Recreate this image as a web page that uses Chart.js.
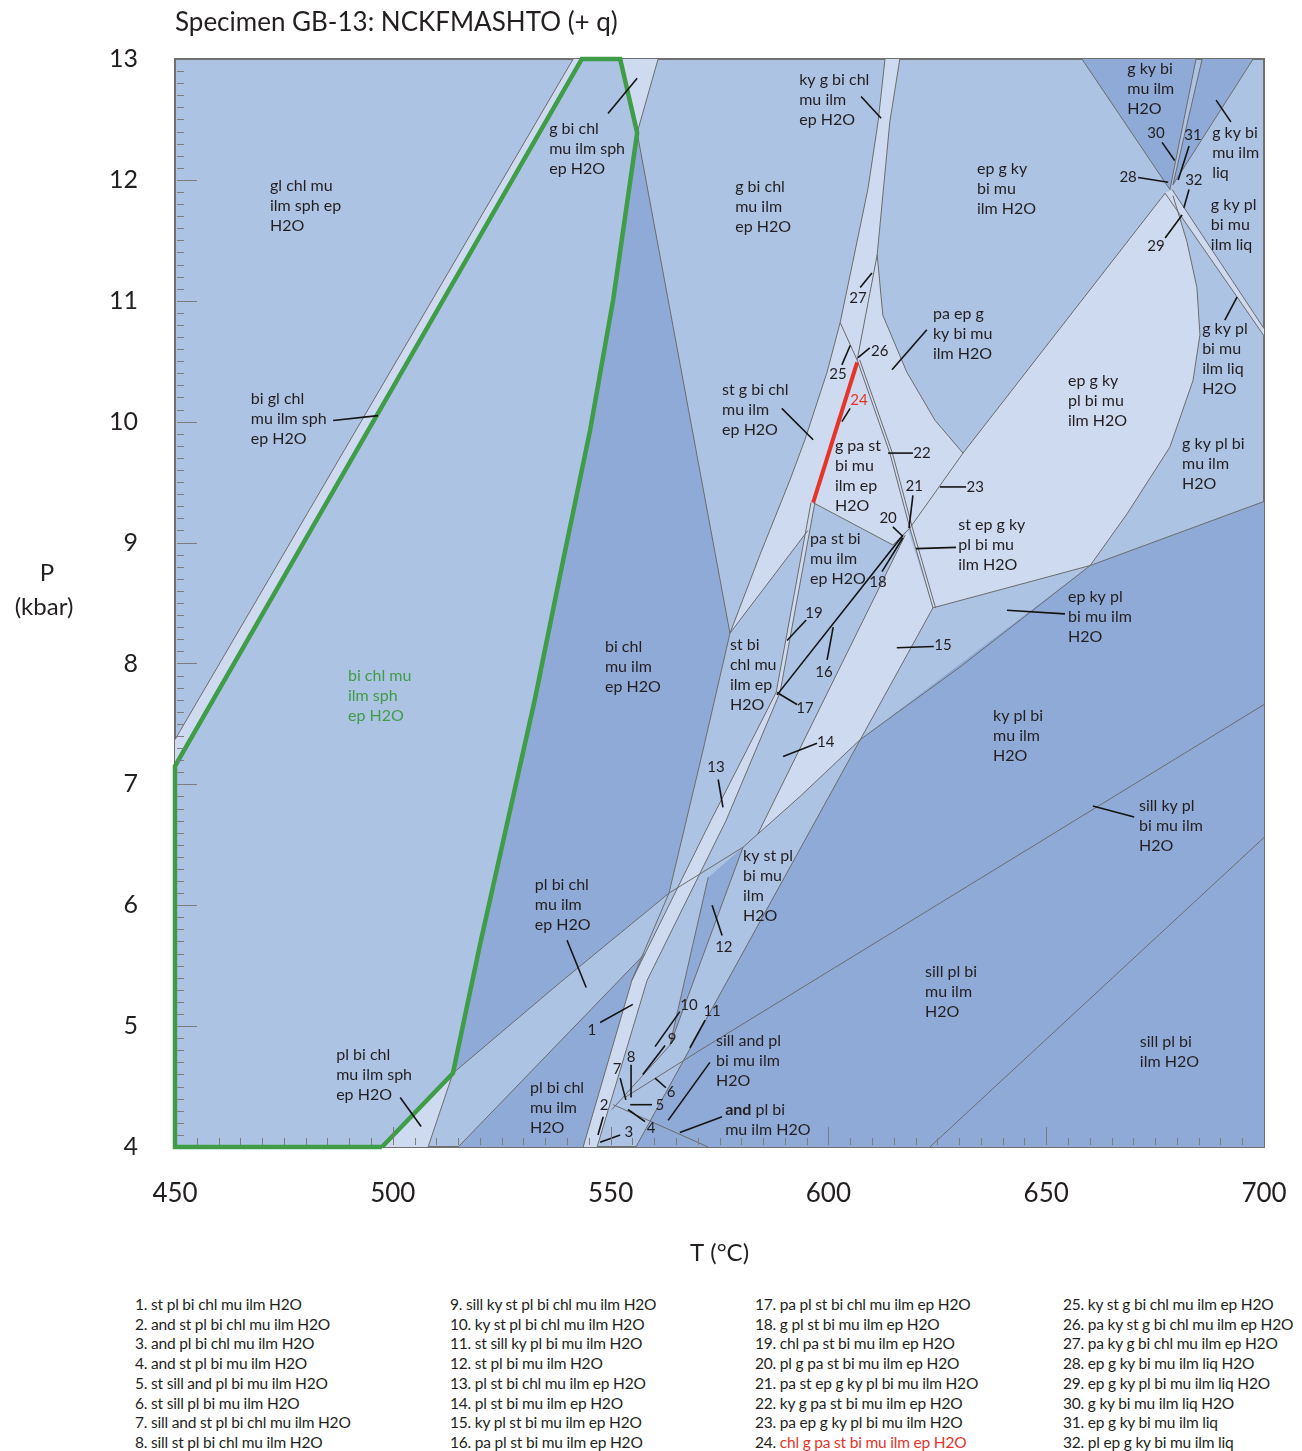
<!DOCTYPE html>
<html lang="en">
<head>
<meta charset="utf-8">
<title>Specimen GB-13: NCKFMASHTO (+ q)</title>
<script src="https://cdn.jsdelivr.net/npm/chart.js@4.4.1/dist/chart.umd.min.js"></script>
<style>
  html, body { margin: 0; padding: 0; background: #fff; }
  body { width: 1302px; height: 1451px; position: relative; overflow: hidden;
         font-family: Lato, "Open Sans", "DejaVu Sans", sans-serif; color: #231f20; }
  #wrap { position: absolute; left: 0; top: 0; width: 1302px; height: 1280px; }
  .legend { position: absolute; top: 1295px; font-size: 15.5px; line-height: 19.7px; white-space: nowrap; letter-spacing: -0.2px; }
  .legend .hl { color: #e5342a; }
</style>
</head>
<body>
<div id="wrap"><canvas id="pt" width="1302" height="1280"></canvas></div>
<div class="legend" id="col1" style="left:135px"></div>
<div class="legend" id="col2" style="left:450px"></div>
<div class="legend" id="col3" style="left:755px"></div>
<div class="legend" id="col4" style="left:1063px"></div>
<script>
// ---- axes ----
const tempTicks = [450, 500, 550, 600, 650, 700];          // T (°C)
const presTicks = [4, 5, 6, 7, 8, 9, 10, 11, 12, 13];      // P (kbar)

// ---- shaded phase fields, [T °C, P kbar] ----
const stripBiGl      = [[450,7.37],[541.4,13],[543.4,13],[450,7.15]];
const triGBiChlSph   = [[552.2,13],[560.9,13],[556.1,12.39]];
const triPlBiChlSph  = [[513.8,4.61],[508.1,4],[497.5,4]];
const fieldBiChlEp   = [[556.1,12.39],[577.4,8.25],[571.2,7.28],[563.4,6.10],[538.4,5.36],[513.8,4.61],[520.0,5.67],[526.4,6.70],[532.6,7.70],[538.4,8.73],[545.3,9.93],[550.6,11.01]];
const fieldPlBiChl   = [[515.0,4],[557.9,5.60],[554.9,5.38],[543.7,4]];
const strip13        = [[588.0,7.76],[573.0,6.70],[554.9,5.38],[543.7,4],[546.9,4],[558.4,5.38],[576.5,6.70],[588.9,7.76]];
const strip19        = [[596.0,9.33],[588.0,7.76],[588.9,7.76],[596.9,9.33]];
const fieldStGBiChl  = [[602.7,10.82],[606.6,10.51],[596.5,9.33],[595.3,9.10],[577.4,8.25],[584.3,8.90],[591.2,9.52],[594.6,9.85],[599.7,10.41]];
const stripKyGBiChl  = [[613.0,13],[616.4,13],[614.1,12.48],[611.2,11.38],[606.6,10.51],[602.7,10.82],[605.6,11.32],[609.1,11.93],[611.4,12.48]];
const fieldGPaSt     = [[606.6,10.51],[596.5,9.33],[614.8,8.98],[618.7,9.12],[614.1,9.74]];
const fieldEpGKyPl   = [[611.2,11.38],[606.6,10.51],[614.1,9.74],[618.7,9.12],[624.0,8.46],[660.1,8.81],[668.6,9.24],[678.4,9.79],[683.7,10.34],[685.3,10.72],[684.6,11.11],[682.3,11.49],[679.1,11.87],[677.3,11.89],[630.9,9.74],[624.5,10.01],[618.0,10.41],[612.5,10.88]];
const fieldKyPlSt    = [[617.6,9.06],[618.3,9.10],[624.0,8.46],[607.3,7.37],[593.5,6.90],[583.8,6.59]];
const wedge12        = [[580.4,6.48],[572.4,6.23],[563.6,4.84]];
const fieldKyPlBi    = [[700,9.34],[660.1,8.81],[607.3,7.37],[568.2,4.82],[555.8,4],[700,4]];
const fieldSillPlBi  = [[623.3,4],[700,6.56],[700,4]];
const wedgeGKyBiH2O  = [[658.2,13],[684.4,13],[678.4,11.92]];
const wedgeGKyBiLiq  = [[685.8,13],[697.5,13],[679.1,11.96]];
const strip29        = [[677.3,11.89],[678.9,11.92],[700,10.77],[700,10.71]];

// ---- reaction boundaries ----
const bndGl      = [[450,7.37],[541.4,13]];
const bndSph     = [[560.9,13],[556.1,12.39]];
const bndL1      = [[556.1,12.39],[577.4,8.25],[571.2,7.28],[563.4,6.10],[554.9,5.38]];
const bndSt      = [[613.0,13],[611.4,12.48],[609.1,11.93],[605.6,11.32],[602.7,10.82],[599.7,10.41],[594.6,9.85],[591.2,9.52],[584.3,8.90],[577.4,8.25]];
const bndKyR     = [[616.4,13],[614.1,12.48],[611.2,11.38],[606.6,10.51]];
const bndPaEp    = [[611.2,11.38],[612.5,10.88],[618.0,10.41],[624.5,10.01],[630.9,9.74]];
const bnd25      = [[602.7,10.82],[606.6,10.51]];
const bnd22a     = [[606.6,10.51],[614.1,9.74],[618.7,9.12],[624.0,8.46]];
const bnd22b     = [[607.2,10.51],[614.7,9.74],[619.3,9.12],[624.6,8.46]];
const bndGPaSt   = [[596.5,9.33],[614.8,8.98],[618.7,9.12]];
const bnd23      = [[630.9,9.74],[618.7,9.12]];
const bndEpPl    = [[630.9,9.74],[677.3,11.89]];
const bndGKy     = [[658.2,13],[678.4,11.92]];
const bnd30a     = [[684.4,13],[678.4,11.92]];
const bnd30b     = [[685.8,13],[679.1,11.96]];
const bndLiq     = [[697.5,13],[679.1,11.96]];
const bnd29a     = [[677.3,11.89],[700,10.71]];
const bnd29b     = [[678.9,11.92],[700,10.77]];
const bndEpOut   = [[679.1,11.87],[682.3,11.49],[684.6,11.11],[685.3,10.72],[683.7,10.34],[678.4,9.79],[668.6,9.24],[660.1,8.81]];
const bndStEp    = [[624.0,8.46],[660.1,8.81],[700,9.34]];
const bndChlOut  = [[513.8,4.61],[538.4,5.36],[563.4,6.10],[580.4,6.48],[593.5,6.90],[607.3,7.37],[630.2,7.97],[660.1,8.81]];
const bndPlIn    = [[515.0,4],[557.9,5.60]];
const bndStChl   = [[577.4,8.25],[595.3,9.10]];
const bnd19a     = [[596.0,9.33],[588.0,7.76]];
const bnd19b     = [[596.9,9.33],[588.9,7.76]];
const bnd13a     = [[588.0,7.76],[573.0,6.70],[554.9,5.38],[543.7,4]];
const bnd13b     = [[588.9,7.76],[576.5,6.70],[558.4,5.38],[546.9,4]];
const bnd15      = [[617.6,9.06],[583.8,6.59]];
const bndKySt    = [[624.0,8.46],[555.8,4]];
const bndSillKy  = [[700,7.66],[570.5,4.80],[553.3,4.41]];
const bndAnd     = [[550.6,4.35],[572.4,4]];
const bndSillIlm = [[623.3,4],[700,6.56]];
const bnd12a     = [[580.4,6.48],[563.6,4.84],[550.3,4.31]];
const bnd12b     = [[572.4,6.23],[563.6,4.84]];
const bndSphOut  = [[508.1,4],[513.8,4.61]];
const bndGreen   = [[497.5,4],[450,4],[450,7.15],[543.4,13],[552.2,13],[556.1,12.39],[550.6,11.01],[545.3,9.93],[538.4,8.73],[532.6,7.70],[526.4,6.70],[520.0,5.67],[513.8,4.61],[497.5,4]];
const field24    = [[606.6,10.49],[596.5,9.33]];
const field16    = [[588.2,7.74],[617.1,9.06]];

// ---- field names ----
const fieldLabels = [
  {t:471.8, p:11.95, lines:['gl chl mu','ilm sph ep','H2O']},
  {t:535.9, p:12.42, lines:['g bi chl','mu ilm sph','ep H2O']},
  {t:467.4, p:10.19, lines:['bi gl chl','mu ilm sph','ep H2O']},
  {t:489.7, p:7.90,  lines:['bi chl mu','ilm sph','ep H2O'], tone:'green'},
  {t:487.0, p:4.76,  lines:['pl bi chl','mu ilm sph','ep H2O']},
  {t:578.6, p:11.94, lines:['g bi chl','mu ilm','ep H2O']},
  {t:593.3, p:12.83, lines:['ky g bi chl','mu ilm','ep H2O']},
  {t:634.1, p:12.09, lines:['ep g ky','bi mu','ilm H2O']},
  {t:668.6, p:12.92, lines:['g ky bi','mu ilm','H2O']},
  {t:688.1, p:12.39, lines:['g ky bi','mu ilm','liq']},
  {t:687.8, p:11.79, lines:['g ky pl','bi mu','ilm liq']},
  {t:685.8, p:10.77, lines:['g ky pl','bi mu','ilm liq','H2O']},
  {t:681.2, p:9.82,  lines:['g ky pl bi','mu ilm','H2O']},
  {t:655.0, p:10.34, lines:['ep g ky','pl bi mu','ilm H2O']},
  {t:624.0, p:10.89, lines:['pa ep g','ky bi mu','ilm H2O']},
  {t:575.6, p:10.26, lines:['st g bi chl','mu ilm','ep H2O']},
  {t:601.5, p:9.80,  lines:['g pa st','bi mu','ilm ep','H2O']},
  {t:629.8, p:9.15,  lines:['st ep g ky','pl bi mu','ilm H2O']},
  {t:595.8, p:9.03,  lines:['pa st bi','mu ilm','ep H2O']},
  {t:655.0, p:8.55,  lines:['ep ky pl','bi mu ilm','H2O']},
  {t:577.4, p:8.15,  lines:['st bi','chl mu','ilm ep','H2O']},
  {t:548.7, p:8.14,  lines:['bi chl','mu ilm','ep H2O']},
  {t:637.8, p:7.57,  lines:['ky pl bi','mu ilm','H2O']},
  {t:671.3, p:6.82,  lines:['sill ky pl','bi mu ilm','H2O']},
  {t:580.4, p:6.41,  lines:['ky st pl','bi mu','ilm','H2O']},
  {t:532.6, p:6.17,  lines:['pl bi chl','mu ilm','ep H2O']},
  {t:622.2, p:5.45,  lines:['sill pl bi','mu ilm','H2O']},
  {t:671.5, p:4.87,  lines:['sill pl bi','ilm H2O']},
  {t:574.2, p:4.88,  lines:['sill and pl','bi mu ilm','H2O']},
  {t:576.3, p:4.31,  lines:['and pl bi','mu ilm H2O'], boldFirst:true},
  {t:531.5, p:4.49,  lines:['pl bi chl','mu ilm','H2O']}
];

// ---- numbered small fields ----
const fieldNumbers = [
  ['1',545.7,4.97],['2',548.5,4.35],['3',554.2,4.12],['4',559.3,4.16],['5',561.3,4.35],
  ['6',563.9,4.45],['7',551.5,4.64],['8',554.7,4.74],['9',564.1,4.89],['10',568.0,5.17],
  ['11',573.3,5.12],['12',576.0,5.65],['13',574.2,7.14],['14',599.4,7.35],['15',626.3,8.15],
  ['16',599.0,7.93],['17',594.6,7.63],['18',611.4,8.67],['19',596.7,8.42],['20',613.7,9.20],
  ['21',619.7,9.47],['22',621.5,9.74],['23',633.7,9.46],['24',607.0,10.18],['25',602.2,10.39],
  ['26',611.8,10.58],['27',606.8,11.02],['28',668.8,12.02],['29',675.2,11.45],['30',675.2,12.39],
  ['31',683.7,12.37],['32',683.9,12.0]
];

// ---- leader lines ----
const leaders = [
  [[549.4,12.55],[556.1,12.84]], [[486.3,10.01],[496.6,10.05]], [[501.7,4.41],[506.5,4.17]],
  [[607.5,12.69],[612.1,12.51]], [[689.0,12.66],[692.4,12.48]], [[693.8,11.03],[691.0,10.84]],
  [[622.6,10.76],[614.6,10.43]], [[589.3,10.11],[596.5,9.85]], [[629.3,8.96],[620.1,8.95]],
  [[654.3,8.41],[641.0,8.44]], [[670.2,6.73],[660.7,6.82]], [[540.0,5.71],[544.4,5.32]],
  [[572.8,4.70],[563.2,4.22]], [[575.6,4.25],[565.9,4.12]],
  [[547.6,5.03],[555.1,5.18]], [[548.3,4.25],[547.1,4.10]], [[552.2,4.10],[547.6,4.04]],
  [[557.9,4.21],[554.0,4.31]], [[559.5,4.35],[554.5,4.35]], [[562.7,4.49],[560.2,4.57]],
  [[552.2,4.57],[553.5,4.39]], [[554.7,4.68],[554.7,4.41]], [[562.5,4.84],[557.4,4.60]],
  [[565.9,5.12],[560.2,4.83]], [[571.7,5.05],[568.2,4.82]], [[575.6,5.75],[573.3,6.00]],
  [[574.7,7.04],[575.8,6.81]], [[597.4,7.34],[589.6,7.23]], [[624.2,8.14],[615.7,8.13]],
  [[599.7,8.03],[601.1,8.30]], [[592.8,7.66],[588.2,7.76]], [[612.3,8.76],[617.1,9.04]],
  [[594.9,8.36],[590.5,8.19]], [[614.8,9.13],[617.1,9.05]], [[619.4,9.39],[618.5,9.12]],
  [[619.4,9.74],[613.7,9.74]], [[631.6,9.46],[625.6,9.46]], [[605.0,10.11],[603.1,10.00]],
  [[603.1,10.47],[605.0,10.63]], [[609.5,10.61],[606.8,10.53]], [[607.3,11.11],[610.0,11.23]],
  [[671.1,12.02],[678.0,11.98]], [[677.3,11.52],[681.2,11.71]], [[676.6,12.31],[679.5,12.16]],
  [[682.8,12.28],[680.3,12.00]], [[682.8,11.92],[681.6,11.77]]
];

// ---- key to the numbered fields ----
const reactionKey = [
  'st pl bi chl mu ilm H2O','and st pl bi chl mu ilm H2O','and pl bi chl mu ilm H2O','and st pl bi mu ilm H2O',
  'st sill and pl bi mu ilm H2O','st sill pl bi mu ilm H2O','sill and st pl bi chl mu ilm H2O','sill st pl bi chl mu ilm H2O',
  'sill ky st pl bi chl mu ilm H2O','ky st pl bi chl mu ilm H2O','st sill ky pl bi mu ilm H2O','st pl bi mu ilm H2O',
  'pl st bi chl mu ilm ep H2O','pl st bi mu ilm ep H2O','ky pl st bi mu ilm ep H2O','pa pl st bi mu ilm ep H2O',
  'pa pl st bi chl mu ilm ep H2O','g pl st bi mu ilm ep H2O','chl pa st bi mu ilm ep H2O','pl g pa st bi mu ilm ep H2O',
  'pa st ep g ky pl bi mu ilm H2O','ky g pa st bi mu ilm ep H2O','pa ep g ky pl bi mu ilm H2O','chl g pa st bi mu ilm ep H2O',
  'ky st g bi chl mu ilm ep H2O','pa ky st g bi chl mu ilm ep H2O','pa ky g bi chl mu ilm ep H2O','ep g ky bi mu ilm liq H2O',
  'ep g ky pl bi mu ilm liq H2O','g ky bi mu ilm liq H2O','ep g ky bi mu ilm liq','pl ep g ky bi mu ilm liq'
];
const highlighted = 24;

// ---- styling ----
const FILL = { light: '#cedaef', mid: '#adc3e3', dark: '#8faad7', darker: '#7491cb' };
const INK = '#231f20', GREEN = '#3f9c47', RED = '#e5342a', EDGE = '#6c6c6c';
const FONT = 'Lato, "Open Sans", sans-serif';

const toXY = pts => pts.map(([x, y]) => ({ x, y }));
const datasets = [];
function area(pts, color) {
  datasets.push({ data: toXY(pts), showLine: true, fill: 'shape', backgroundColor: color,
    borderWidth: 0, borderColor: 'rgba(0,0,0,0)', pointRadius: 0, order: 30 });
}
function edge(pts, color, width, order, extra) {
  datasets.push(Object.assign({ data: toXY(pts), showLine: true, fill: false, borderColor: color,
    borderWidth: width, pointRadius: 0, order: order, borderCapStyle: 'butt', borderJoinStyle: 'miter' }, extra || {}));
}

[[stripBiGl,'light'],[triGBiChlSph,'light'],[triPlBiChlSph,'light'],[fieldBiChlEp,'dark'],[fieldPlBiChl,'dark'],
 [strip13,'light'],[strip19,'light'],[fieldStGBiChl,'light'],[stripKyGBiChl,'light'],[fieldGPaSt,'light'],
 [fieldEpGKyPl,'light'],[fieldKyPlSt,'light'],[wedge12,'dark'],[fieldKyPlBi,'dark'],[fieldSillPlBi,'darker'],
 [wedgeGKyBiH2O,'dark'],[wedgeGKyBiLiq,'dark'],[strip29,'light']]
  .forEach(([pts, tone]) => area(pts, FILL[tone]));

[bndGl,bndSph,bndL1,bndSt,bndKyR,bndPaEp,bnd25,bnd22a,bnd22b,bndGPaSt,bnd23,bndEpPl,bndGKy,bnd30a,bnd30b,bndLiq,
 bnd29a,bnd29b,bndEpOut,bndStEp,bndChlOut,bndPlIn,bndStChl,bnd19a,bnd19b,bnd13a,bnd13b,bnd15,bndKySt,bndSillKy,
 bndAnd,bndSillIlm,bnd12a,bnd12b,bndSphOut].forEach(pts => edge(pts, EDGE, 1, 20));

edge(bndGreen, GREEN, 4.5, 10, { clip: 4 });
edge(field16, '#111', 1.6, 9);
edge(field24, RED, 4, 8);
leaders.forEach(pts => edge(pts, '#141414', 1.6, 5));

// ---- drawing helpers ----
const decor = {
  id: 'decor',
  beforeDatasetsDraw(chart) {
    const { ctx, chartArea: a } = chart;
    ctx.save();
    ctx.fillStyle = FILL.mid;
    ctx.fillRect(a.left, a.top, a.right - a.left, a.bottom - a.top);
    ctx.strokeStyle = '#707070';
    ctx.lineWidth = 2;
    ctx.strokeRect(a.left, a.top, a.right - a.left, a.bottom - a.top);
    ctx.restore();
  },
  afterDatasetsDraw(chart) {
    const { ctx, chartArea: a, scales: { x, y } } = chart;
    ctx.save();
    ctx.strokeStyle = '#7c7c7c';
    ctx.lineWidth = 1;
    for (let i = 1; i < 90; i++) {
      const py = Math.round(y.getPixelForValue(4 + i / 10)) + 0.5;
      const len = i % 10 === 0 ? 20 : 7;
      ctx.beginPath(); ctx.moveTo(a.left + 2, py); ctx.lineTo(a.left + 2 + len, py); ctx.stroke();
    }
    for (let i = 1; i < 50; i++) {
      const px = Math.round(x.getPixelForValue(450 + i * 5)) + 0.5;
      const len = i % 10 === 0 ? 18 : 7;
      ctx.beginPath(); ctx.moveTo(px, a.bottom - 2); ctx.lineTo(px, a.bottom - 2 - len); ctx.stroke();
    }

    // field names
    ctx.textBaseline = 'middle';
    ctx.textAlign = 'left';
    fieldLabels.forEach(lab => {
      const px = x.getPixelForValue(lab.t), py = y.getPixelForValue(lab.p);
      ctx.fillStyle = lab.tone === 'green' ? GREEN : INK;
      lab.lines.forEach((txt, k) => {
        if (k === 0 && lab.boldFirst) {
          const sp = txt.indexOf(' ');
          const head = txt.slice(0, sp), rest = txt.slice(sp);
          ctx.font = `bold 16px ${FONT}`;
          ctx.fillText(head, px, py);
          const w = ctx.measureText(head).width;
          ctx.font = `16px ${FONT}`;
          ctx.fillText(rest, px + w, py);
        } else {
          ctx.font = `16px ${FONT}`;
          ctx.fillText(txt, px, py + k * 20);
        }
      });
    });

    // numbers of the small fields
    ctx.textAlign = 'center';
    ctx.font = `15px ${FONT}`;
    fieldNumbers.forEach(([n, t, p]) => {
      ctx.fillStyle = Number(n) === highlighted ? RED : INK;
      ctx.fillText(n, x.getPixelForValue(t), y.getPixelForValue(p));
    });

    // title and axis titles
    ctx.fillStyle = INK;
    ctx.textAlign = 'left';
    ctx.font = `26px ${FONT}`;
    ctx.fillText('Specimen GB-13: NCKFMASHTO (+ q)', a.left, 23);
    ctx.textAlign = 'center';
    ctx.font = `24px ${FONT}`;
    ctx.fillText('T (°C)', (a.left + a.right) / 2, a.bottom + 106);
    const mid = (a.top + a.bottom) / 2;
    ctx.fillText('P', 47, mid - 30);
    ctx.fillText('(kbar)', 44, mid + 4);
    ctx.restore();
  }
};

new Chart(document.getElementById('pt'), {
  type: 'scatter',
  data: { datasets },
  options: {
    responsive: false,
    animation: false,
    events: [],
    layout: { padding: { left: 0, right: 38, top: 59, bottom: 0 } },
    plugins: { legend: { display: false }, tooltip: { enabled: false } },
    scales: {
      x: {
        type: 'linear', min: 450, max: 700,
        afterBuildTicks: s => { s.ticks = tempTicks.map(v => ({ value: v })); },
        afterFit: s => { s.height = 133; s.paddingLeft = 0; s.paddingRight = 0; },
        grid: { display: false, drawTicks: false },
        border: { display: false },
        ticks: { color: INK, font: { family: FONT, size: 26 }, padding: 31, maxRotation: 0 }
      },
      y: {
        type: 'linear', min: 4, max: 13,
        afterBuildTicks: s => { s.ticks = presTicks.map(v => ({ value: v })); },
        afterFit: s => { s.width = 175; s.paddingTop = 0; s.paddingBottom = 0; },
        grid: { display: false, drawTicks: false },
        border: { display: false },
        ticks: { color: INK, font: { family: FONT, size: 25 }, padding: 37 }
      }
    }
  },
  plugins: [decor]
});

// ---- key below the diagram ----
reactionKey.forEach((txt, i) => {
  const col = document.getElementById('col' + (Math.floor(i / 8) + 1));
  const row = document.createElement('div');
  const num = (i + 1) + '. ';
  if (i + 1 === highlighted) {
    row.appendChild(document.createTextNode(num));
    const s = document.createElement('span');
    s.className = 'hl';
    s.textContent = txt;
    row.appendChild(s);
  } else {
    row.textContent = num + txt;
  }
  col.appendChild(row);
});
</script>
</body>
</html>
